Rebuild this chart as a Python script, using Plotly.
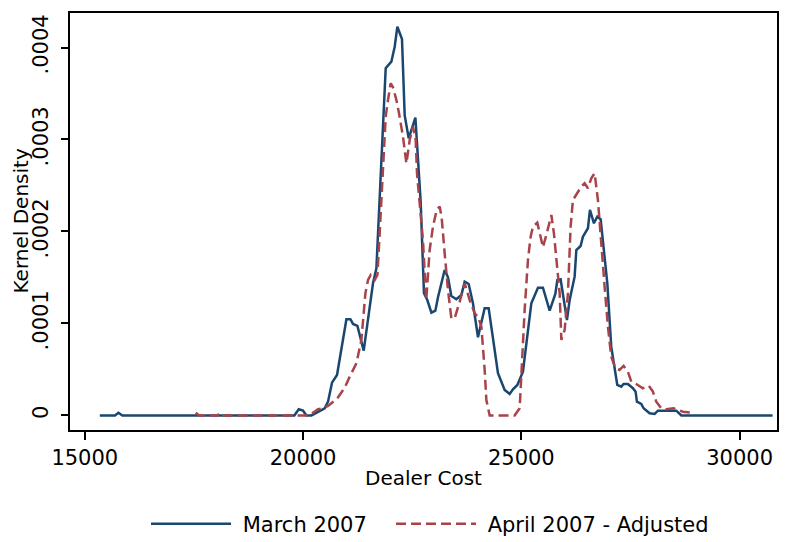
import plotly.graph_objects as go

# March 2007 kernel density (Dealer Cost, density)
march_x = [15344, 15600, 15690, 15771, 15860, 19800, 19901, 19999, 20077, 20191,
           20343, 20496, 20572, 20663, 20778, 20993, 21085, 21144, 21245, 21389,
           21602, 21680, 21893, 22023, 22099, 22160, 22266, 22328, 22420, 22573,
           22694, 22770, 22846, 22940, 23031, 23091, 23244, 23320, 23397, 23512,
           23627, 23702, 23794, 23892, 24007, 24160, 24252, 24465, 24618, 24733,
           24808, 24909, 25037, 25229, 25381, 25495, 25649, 25779, 25825, 25900,
           26045, 26107, 26221, 26260, 26358, 26411, 26526, 26572, 26663, 26741,
           26817, 26970, 27060, 27137, 27198, 27290, 27343, 27441, 27556, 27618,
           27648, 27748, 27801, 27939, 28053, 28129, 28550, 28665, 30755]
march_y = [0, 0, 0, 0.000003, 0, 0, 0.0000067, 0.0000052, 0, 0,
           0.0000041, 0.0000078, 0.000015, 0.0000357, 0.000044, 0.0001046, 0.0001046, 0.0000995, 0.0000973, 0.0000704,
           0.0001437, 0.00016, 0.0003774, 0.0003846, 0.0004009, 0.0004226, 0.0004092, 0.0003261, 0.0003013, 0.0003237,
           0.0002324, 0.0001328, 0.0001255, 0.0001117, 0.0001139, 0.0001285, 0.0001582, 0.0001502, 0.0001299, 0.0001263,
           0.000131, 0.0001454, 0.0001429, 0.000122, 0.000085, 0.0001165, 0.0001165, 0.0000459, 0.0000277, 0.0000234,
           0.0000285, 0.0000332, 0.0000476, 0.000122, 0.0001389, 0.0001389, 0.0001139, 0.0001321, 0.0001473, 0.000148,
           0.0001038, 0.0001255, 0.0001509, 0.0001799, 0.0001842, 0.0001943, 0.0002035, 0.0002234, 0.0002089, 0.0002161,
           0.0002133, 0.0001437, 0.0000748, 0.0000495, 0.0000332, 0.0000313, 0.0000342, 0.0000342, 0.0000296, 0.0000259,
           0.000015, 0.0000125, 0.0000078, 0.0000024, 0.0000016, 0.0000052, 0.0000052, 0, 0]

# April 2007 - Adjusted kernel density
april_x = [17540, 17620, 18040, 18107, 18175, 20114, 20228, 20343, 20457, 20572,
           20787, 20954, 21069, 21222, 21336, 21412, 21428, 21488, 21550, 21641,
           21703, 21755, 21831, 21893, 21946, 22007, 22060, 22138, 22198, 22289,
           22367, 22443, 22518, 22580, 22610, 22672, 22746, 22822, 22900, 22976,
           23061, 23130, 23176, 23244, 23320, 23397, 23473, 23588, 23702, 23817,
           23931, 24007, 24085, 24160, 24199, 24275, 24847, 24962, 24995, 25041,
           25076, 25152, 25213, 25266, 25366, 25458, 25495, 25573, 25649, 25688,
           25747, 25802, 25878, 25917, 25992, 26068, 26129, 26182, 26297, 26372,
           26450, 26526, 26603, 26679, 26755, 26833, 26908, 26984, 27060, 27150,
           27250, 27343, 27441, 27519, 27633, 27785, 27922, 28014, 28091, 28206,
           28320, 28488, 28626, 28702, 28894]
april_y = [0.000003, 0, 0, 0.000003, 0, 0, 0.000003, 0.0000067, 0.0000078, 0.0000103,
           0.0000187, 0.0000302, 0.0000422, 0.0000567, 0.0000821, 0.0001219, 0.0001328, 0.0001473, 0.0001527, 0.0001473,
           0.0001527, 0.000198, 0.0002704, 0.0003248, 0.0003429, 0.0003611, 0.0003567, 0.0003429, 0.0003285, 0.000303,
           0.0002741, 0.0002995, 0.0003139, 0.0002995, 0.0002633, 0.000227, 0.0001908, 0.0001255, 0.0001799, 0.0002052,
           0.0002234, 0.0002272, 0.0002147, 0.0001763, 0.0001364, 0.0001057, 0.0001057, 0.0001237, 0.0001437, 0.0001255,
           0.0001111, 0.0001074, 0.0000965, 0.0000495, 0.0000168, 0, 0, 0.0000078, 0.000044, 0.0000766,
           0.0001147, 0.000169, 0.0001943, 0.0002052, 0.0002096, 0.0001908, 0.0001828, 0.0001962, 0.0002107, 0.0002179,
           0.000198, 0.000169, 0.0001328, 0.0000821, 0.0000929, 0.0001328, 0.0002052, 0.0002342, 0.0002433, 0.0002487,
           0.0002524, 0.000247, 0.0002578, 0.0002633, 0.0002342, 0.0001908, 0.00014, 0.0000965, 0.0000639, 0.000052,
           0.0000495, 0.0000538, 0.0000476, 0.0000367, 0.0000342, 0.0000296, 0.0000321, 0.0000259, 0.000015, 0.0000078,
           0.0000067, 0.0000078, 0.0000052, 0.0000041, 0.000003]

x_ticks = [15000, 20000, 25000, 30000]
x_tick_labels = ["15000", "20000", "25000", "30000"]
y_ticks = [0, 0.0001, 0.0002, 0.0003, 0.0004]
y_tick_labels = ["0", ".0001", ".0002", ".0003", ".0004"]

FONT = "DejaVu Sans"

fig = go.Figure()
fig.add_trace(go.Scatter(x=march_x, y=march_y, mode="lines", name=" March 2007",
                         legend="legend",
                         line=dict(color="#1a476f", width=2.5)))
fig.add_trace(go.Scatter(x=april_x, y=april_y, mode="lines", name=" April 2007 - Adjusted",
                         legend="legend2",
                         line=dict(color="#a8434a", width=2.5, dash="10px,5px")))

leg_common = dict(orientation="h", xref="container", yref="container",
                  xanchor="left", y=0.033, yanchor="middle",
                  itemwidth=80, font=dict(size=21), bgcolor="rgba(0,0,0,0)")

fig.update_layout(
    width=791, height=542,
    margin=dict(l=70, r=14, t=13, b=112, autoexpand=False),
    paper_bgcolor="white", plot_bgcolor="white",
    font=dict(family=FONT, size=20, color="black"),
    showlegend=True,
    legend=dict(x=0.1846, **leg_common),
    legend2=dict(x=0.4943, **leg_common),
    xaxis=dict(range=[14661, 30857], tickvals=x_ticks, ticktext=x_tick_labels,
               ticks="outside", ticklen=8, tickwidth=2, tickcolor="black",
               showline=True, mirror=True, linewidth=2, linecolor="black",
               showgrid=False, zeroline=False, automargin=False,
               tickfont=dict(size=21),
               title=dict(text="Dealer Cost", standoff=2, font=dict(size=20))),
    yaxis=dict(range=[-0.0000158, 0.0004375], tickvals=y_ticks, ticktext=y_tick_labels,
               tickangle=-90, ticks="outside", ticklen=7, tickwidth=2, tickcolor="black",
               ticklabelstandoff=5, automargin=False,
               tickfont=dict(size=21),
               showline=True, mirror=True, linewidth=2, linecolor="black",
               showgrid=False, zeroline=False),
    annotations=[dict(text="Kernel Density", xref="paper", yref="paper",
                      x=-50 / 707, y=0.5, xanchor="center", yanchor="middle",
                      textangle=-90, showarrow=False, font=dict(size=20))],
)

fig.write_html("out.html")
